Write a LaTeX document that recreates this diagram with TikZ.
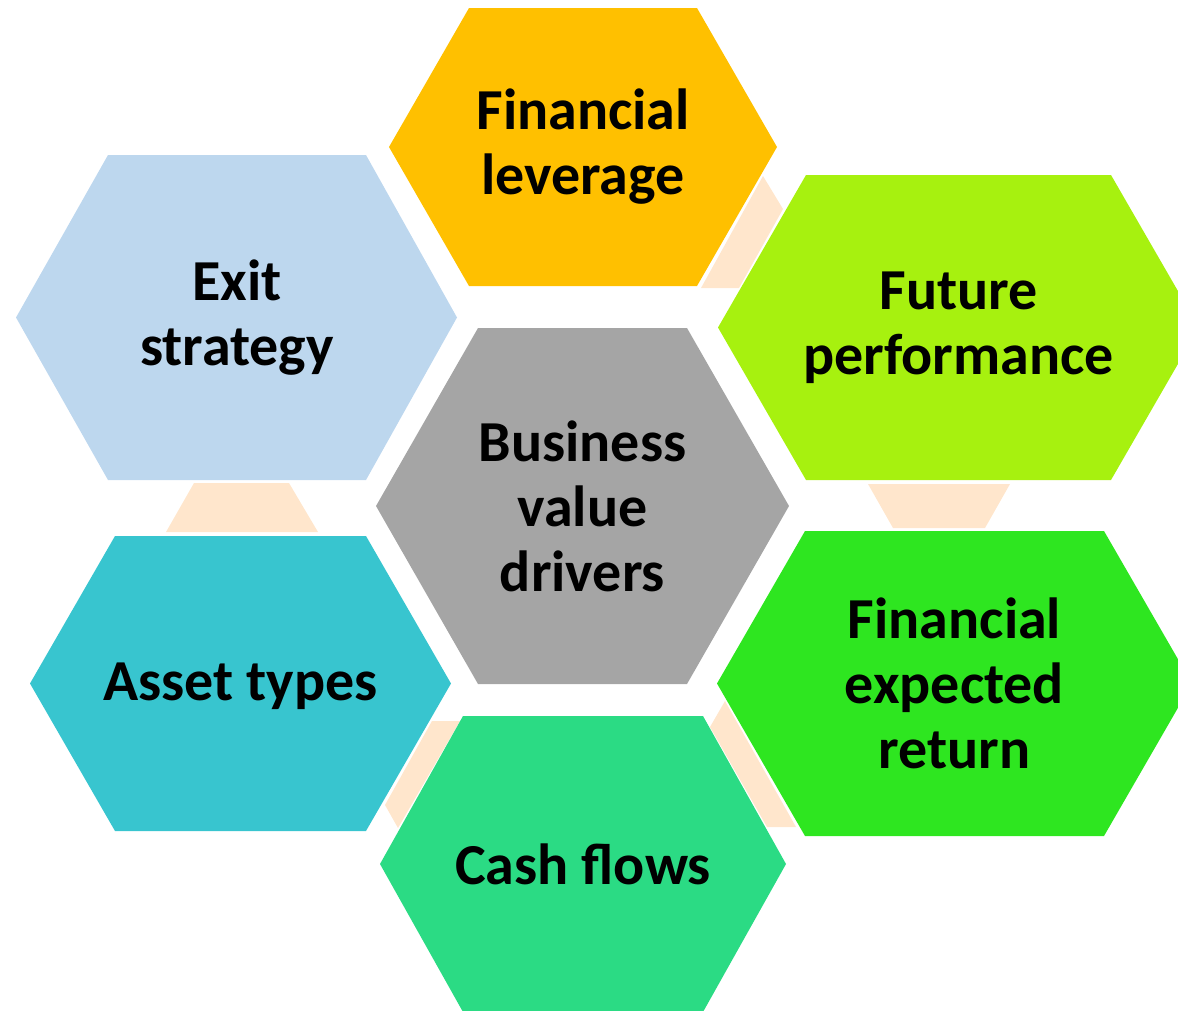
\documentclass[tikz,border=0pt]{standalone}
\usepackage{fontspec}
\setmainfont{Carlito}

\definecolor{levorange}{HTML}{FFC000}
\definecolor{futlime}{HTML}{A7F10F}
\definecolor{exitblue}{HTML}{BDD7EE}
\definecolor{assetteal}{HTML}{38C5CF}
\definecolor{fergreen}{HTML}{2EE620}
\definecolor{cashgreen}{HTML}{2BDB84}
\definecolor{ctrgray}{HTML}{A5A5A5}
\definecolor{linkpeach}{HTML}{FFE6CC}

\begin{document}
\begin{tikzpicture}[x=1pt, y=-1pt,
          hexlabel/.style={align=center, inner sep=0pt, text=black,
            font=\bfseries\fontsize{58}{65}\selectfont},
          linkshape/.style={fill=linkpeach}]

        \useasboundingbox (0,0) rectangle (1178,1010);
        \clip (0,0) rectangle (1178,1010);

        % links between the outer cells
        \fill[linkshape] (763,176) -- (783,209) -- (739,288) -- (701,288) -- cycle;
        \fill[linkshape] (194,483) -- (289,483) -- (318,532) -- (166,532) -- cycle;
        \fill[linkshape] (868,484) -- (1010,484) -- (985,528) -- (893,528) -- cycle;
        \fill[linkshape] (725,701) -- (796,827) -- (767,827) -- (710,727) -- cycle;
        \fill[linkshape] (432,721) -- (460,721) -- (398,828) -- (385,805) -- cycle;

        % cells
        \fill[levorange]  (469,8)   -- (697,8)   -- (777,147)   -- (697,286) -- (469,286) -- (389,147)   -- cycle;
        \fill[ctrgray]    (478,328) -- (687,328) -- (789,506)   -- (687,684) -- (478,684) -- (376,506)   -- cycle;
        \fill[futlime]    (806,175) -- (1111,175) -- (1199,327.5) -- (1111,480) -- (806,480) -- (718,327.5) -- cycle;
        \fill[exitblue]   (108,155) -- (366,155) -- (457,317.5) -- (366,480) -- (108,480) -- (16,317.5)  -- cycle;
        \fill[assetteal]  (115,536) -- (366,536) -- (451,683.5) -- (366,831) -- (115,831) -- (30,683.5)  -- cycle;
        \fill[fergreen]   (805,531) -- (1104,531) -- (1192,683.5) -- (1104,836) -- (805,836) -- (717,683.5) -- cycle;
        \fill[cashgreen]  (463,716) -- (703,716) -- (786,864)   -- (703,1012) -- (463,1012) -- (380,864)  -- cycle;

        \node[hexlabel] (lev)   at (583,147)     {Financial\\leverage};
        \node[hexlabel] (ctr)   at (582.5,506)   {Business\\value\\drivers};
        \node[hexlabel] (fut)   at (958.5,327.5) {Future\\performance};
        \node[hexlabel] (exit)  at (237,317.5)   {Exit\\strategy};
        \node[hexlabel, yshift=-3pt] (asset) at (240.5,683.5) {Asset types};
        \node[hexlabel] (fer)   at (954.5,683.5) {Financial\\expected\\return};
        \node[hexlabel] (cash)  at (583,864)     {Cash flows};

      \end{tikzpicture}
\end{document}
